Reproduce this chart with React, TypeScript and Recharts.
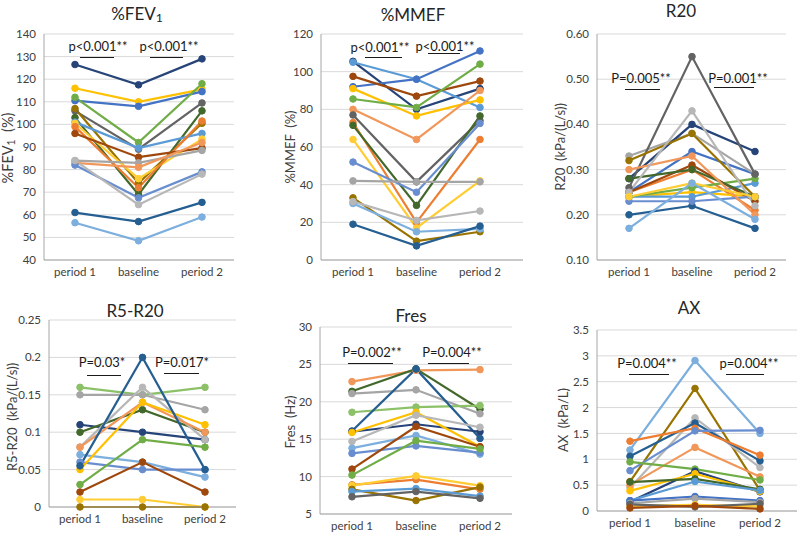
import React from "react";
import { CartesianGrid, Line, LineChart, XAxis, YAxis } from "recharts";

const CATEGORIES = ["period 1", "baseline", "period 2"];

// series colours (Excel office palette), keyed by patient colour name
const PALETTE: Record<string, string> = {
  blue: "#4472C4",
  orange: "#ED7D31",
  gray: "#A5A5A5",
  gold: "#FFC000",
  lightBlue: "#5B9BD5",
  green: "#70AD47",
  navy: "#264478",
  brown: "#9E480E",
  darkGray: "#636363",
  olive: "#997300",
  steel: "#255E91",
  darkGreen: "#43682B",
  periwinkle: "#698ED0",
  salmon: "#F1975A",
  silver: "#B7B7B7",
  lemon: "#FFCD33",
  sky: "#7CAFDD",
  lime: "#8CC168",
};

type Series = { key: string; values: number[] };

const FEV1: Series[] = [
  { key: "navy", values: [126.5, 117.5, 129] },
  { key: "gold", values: [116, 110, 115.5] },
  { key: "blue", values: [110.5, 108, 114.5] },
  { key: "green", values: [112, 92, 118] },
  { key: "darkGray", values: [106, 89, 109.5] },
  { key: "olive", values: [107, 74, 100.5] },
  { key: "darkGreen", values: [103, 69, 106] },
  { key: "lightBlue", values: [101, 89.5, 96] },
  { key: "lemon", values: [100.5, 76, 93.5] },
  { key: "orange", values: [99, 72, 101.5] },
  { key: "brown", values: [96, 85.5, 89.5] },
  { key: "gray", values: [84, 83, 88.5] },
  { key: "salmon", values: [83, 81, 92] },
  { key: "periwinkle", values: [82, 67.5, 79] },
  { key: "silver", values: [84, 64.5, 78] },
  { key: "steel", values: [61, 57, 65.5] },
  { key: "sky", values: [56.5, 48.5, 59] },
];

const MMEF: Series[] = [
  { key: "navy", values: [105.5, 80, 91] },
  { key: "lightBlue", values: [105, 96, 81] },
  { key: "blue", values: [92, 96, 111] },
  { key: "brown", values: [97.5, 87, 95] },
  { key: "gold", values: [91, 76.5, 85] },
  { key: "green", values: [85.5, 81, 104] },
  { key: "salmon", values: [80, 64, 90] },
  { key: "darkGray", values: [77, 41.5, 74] },
  { key: "orange", values: [73, 20, 64] },
  { key: "darkGreen", values: [71.5, 29, 76.5] },
  { key: "lemon", values: [64, 17, 42] },
  { key: "periwinkle", values: [52, 36, 72.5] },
  { key: "gray", values: [42, 41.5, 41.5] },
  { key: "olive", values: [33, 10, 15] },
  { key: "sky", values: [30, 15, 16.5] },
  { key: "silver", values: [31, 21, 26] },
  { key: "steel", values: [19, 7.5, 18] },
];

const R20: Series[] = [
  { key: "blue", values: [0.25, 0.34, 0.29] },
  { key: "orange", values: [0.25, 0.3, 0.21] },
  { key: "gray", values: [0.33, 0.38, 0.29] },
  { key: "gold", values: [0.24, 0.25, 0.24] },
  { key: "lightBlue", values: [0.24, 0.24, 0.27] },
  { key: "green", values: [0.24, 0.26, 0.28] },
  { key: "navy", values: [0.28, 0.4, 0.34] },
  { key: "brown", values: [0.25, 0.31, 0.23] },
  { key: "darkGray", values: [0.26, 0.55, 0.29] },
  { key: "olive", values: [0.32, 0.38, 0.24] },
  { key: "steel", values: [0.2, 0.22, 0.17] },
  { key: "darkGreen", values: [0.28, 0.3, 0.24] },
  { key: "periwinkle", values: [0.23, 0.23, 0.24] },
  { key: "salmon", values: [0.3, 0.33, 0.2] },
  { key: "silver", values: [0.25, 0.43, 0.22] },
  { key: "lemon", values: [0.24, 0.27, 0.24] },
  { key: "sky", values: [0.17, 0.27, 0.19] },
];

const R5R20: Series[] = [
  { key: "lime", values: [0.16, 0.15, 0.16] },
  { key: "gray", values: [0.15, 0.15, 0.13] },
  { key: "navy", values: [0.11, 0.1, 0.09] },
  { key: "darkGreen", values: [0.1, 0.13, 0.1] },
  { key: "silver", values: [0.08, 0.16, 0.09] },
  { key: "salmon", values: [0.08, 0.14, 0.1] },
  { key: "sky", values: [0.07, 0.06, 0.04] },
  { key: "periwinkle", values: [0.06, 0.05, 0.05] },
  { key: "gold", values: [0.05, 0.14, 0.11] },
  { key: "steel", values: [0.055, 0.2, 0.05] },
  { key: "green", values: [0.03, 0.09, 0.08] },
  { key: "brown", values: [0.02, 0.06, 0.02] },
  { key: "lemon", values: [0.01, 0.01, 0] },
  { key: "olive", values: [0, 0, 0] },
];

const FRES: Series[] = [
  { key: "salmon", values: [22.7, 24.2, 24.3] },
  { key: "darkGreen", values: [21.4, 24.4, 19] },
  { key: "gray", values: [21.1, 21.6, 18.4] },
  { key: "lime", values: [18.6, 19.3, 19.5] },
  { key: "steel", values: [16.1, 24.4, 15.1] },
  { key: "navy", values: [16, 17, 16] },
  { key: "gold", values: [15.9, 18.6, 14] },
  { key: "silver", values: [14.7, 18.2, 16.6] },
  { key: "sky", values: [13.8, 15.5, 13] },
  { key: "periwinkle", values: [13.1, 14.1, 13.2] },
  { key: "brown", values: [11, 16.7, 14] },
  { key: "green", values: [10.2, 14.8, 13.7] },
  { key: "orange", values: [8.9, 9.6, 8.3] },
  { key: "lemon", values: [8.8, 10.1, 8.8] },
  { key: "olive", values: [8.3, 6.8, 8.6] },
  { key: "lightBlue", values: [8, 8.4, 7.4] },
  { key: "darkGray", values: [7.3, 8, 7.1] },
];

const AX: Series[] = [
  { key: "sky", values: [1.18, 2.91, 1.5] },
  { key: "olive", values: [0.57, 2.37, 0.4] },
  { key: "silver", values: [0.45, 1.8, 0.84] },
  { key: "steel", values: [1.06, 1.7, 0.97] },
  { key: "orange", values: [1.35, 1.6, 1.08] },
  { key: "periwinkle", values: [0.78, 1.55, 1.56] },
  { key: "salmon", values: [0.5, 1.23, 0.66] },
  { key: "green", values: [0.95, 0.81, 0.6] },
  { key: "navy", values: [0.18, 0.77, 0.37] },
  { key: "gold", values: [0.39, 0.72, 0.38] },
  { key: "darkGreen", values: [0.56, 0.62, 0.42] },
  { key: "lightBlue", values: [0.2, 0.57, 0.4] },
  { key: "blue", values: [0.2, 0.28, 0.2] },
  { key: "gray", values: [0.15, 0.24, 0.17] },
  { key: "lemon", values: [0.1, 0.12, 0.09] },
  { key: "darkGray", values: [0.13, 0.08, 0.14] },
  { key: "brown", values: [0.06, 0.1, 0.04] },
];

const FEV1_TICKS = [40, 50, 60, 70, 80, 90, 100, 110, 120, 130, 140];
const MMEF_TICKS = [0, 20, 40, 60, 80, 100, 120];
const R20_TICKS = [0.1, 0.2, 0.3, 0.4, 0.5, 0.6];
const R5R20_TICKS = [0, 0.05, 0.1, 0.15, 0.2, 0.25];
const FRES_TICKS = [5, 10, 15, 20, 25, 30];
const AX_TICKS = [0, 0.5, 1, 1.5, 2, 2.5, 3, 3.5];

const P_LABELS = {
  fev1: ["p<0.001**", "p<0.001**"],
  mmef: ["p<0.001**", "p<0.001**"],
  r20: ["P=0.005**", "P=0.001**"],
  r5r20: ["P=0.03*", "P=0.017*"],
  fres: ["P=0.002**", "P=0.004**"],
  ax: ["P=0.004**", "p=0.004**"],
};

const TEXT = "#404040";
const sub1 = <span style={{ fontSize: "0.72em", verticalAlign: "-0.15em" }}>1</span>;

const toRows = (series: Series[]) =>
  CATEGORIES.map((c, i) => {
    const row: Record<string, any> = { period: c };
    series.forEach((s) => (row[s.key] = s.values[i]));
    return row;
  });

type PanelProps = {
  series: Series[];
  ticks: number[];
  fmt?: (v: number) => string;
  left: number; // plot left edge
  right: number; // plot right edge (grid end)
  top: number;
  bottom: number;
  pad: [number, number]; // x-axis padding to first / last category
  title: React.ReactNode;
  titleX: number;
  titleY: number;
  yTitle: React.ReactNode;
  yTitleX: number;
  yTitleY: number;
  yTitleSize?: number;
  pLabels: string[];
  pText: { x: number; y: number }[];
  pBars: { x1: number; x2: number; y: number }[];
};

const Y_W = 44;
const X_H = 26;
const M_TOP = 10;

const Panel = (p: PanelProps) => {
  const w = Y_W + (p.right - p.left);
  const h = M_TOP + p.bottom - p.top + X_H;
  return (
    <>
      <div style={{ position: "absolute", left: p.left - Y_W, top: p.top - M_TOP }}>
        <LineChart width={w} height={h} data={toRows(p.series)} margin={{ top: M_TOP, right: 0, bottom: 0, left: 0 }}>
          <CartesianGrid vertical={false} stroke="#D9D9D9" />
          <XAxis
            dataKey="period"
            height={X_H}
            tickSize={0}
            tickMargin={8}
            interval={0}
            padding={{ left: p.pad[0], right: p.pad[1] }}
            axisLine={{ stroke: "#A6A6A6" }}
            tick={{ fill: TEXT, fontSize: 11.5 }}
          />
          <YAxis
            type="number"
            width={Y_W}
            domain={[p.ticks[0], p.ticks[p.ticks.length - 1]]}
            ticks={p.ticks}
            interval={0}
            tickSize={0}
            tickMargin={8}
            tickFormatter={p.fmt}
            axisLine={{ stroke: "#A6A6A6" }}
            tick={{ fill: TEXT, fontSize: 11.5 }}
          />
          {p.series.map((s) => (
            <Line
              key={s.key}
              dataKey={s.key}
              stroke={PALETTE[s.key]}
              strokeWidth={2.2}
              dot={{ r: 3.3, fill: PALETTE[s.key], stroke: PALETTE[s.key], strokeWidth: 1 }}
              isAnimationActive={false}
            />
          ))}
        </LineChart>
      </div>
      <div
        style={{
          position: "absolute",
          left: p.titleX,
          top: p.titleY,
          transform: "translate(-50%, -50%)",
          fontSize: 17,
          color: "#262626",
          whiteSpace: "nowrap",
        }}
      >
        {p.title}
      </div>
      <div
        style={{
          position: "absolute",
          left: p.yTitleX,
          top: p.yTitleY,
          transform: "translate(-50%, -50%) rotate(-90deg)",
          fontSize: p.yTitleSize ?? 13,
          color: TEXT,
          whiteSpace: "pre",
        }}
      >
        {p.yTitle}
      </div>
      {p.pLabels.map((t, i) => (
        <div
          key={"pt" + i}
          style={{
            position: "absolute",
            left: p.pText[i].x,
            top: p.pText[i].y,
            transform: "translate(-50%, -50%)",
            fontSize: 13,
            color: "#1a1a1a",
            whiteSpace: "nowrap",
          }}
        >
          {t}
        </div>
      ))}
      {p.pBars.map((b, i) => (
        <div
          key={"pb" + i}
          style={{
            position: "absolute",
            left: b.x1,
            top: b.y,
            width: b.x2 - b.x1,
            height: 0,
            borderTop: "1.5px solid #1a1a1a",
          }}
        />
      ))}
    </>
  );
};

const plain = (v: number) => String(v);

export default function App() {
  return (
    <div
      style={{
        position: "absolute",
        left: 0,
        top: 0,
        width: 797,
        height: 533,
        background: "#fff",
        overflow: "hidden",
        fontFamily: "Lato, 'Liberation Sans', sans-serif",
      }}
    >
      <Panel
        series={FEV1}
        ticks={FEV1_TICKS}
        fmt={plain}
        left={44}
        right={234}
        top={34}
        bottom={260}
        pad={[31, 32]}
        title={<>%FEV{sub1}</>}
        titleX={137}
        titleY={14}
        yTitle={<>%FEV{sub1}  (%)</>}
        yTitleX={8}
        yTitleY={148}
        yTitleSize={14.5}
        pLabels={P_LABELS.fev1}
        pText={[{ x: 98, y: 46 }, { x: 169, y: 46 }]}
        pBars={[{ x1: 80, x2: 114, y: 57 }, { x1: 150, x2: 183, y: 57 }]}
      />
      <Panel
        series={MMEF}
        ticks={MMEF_TICKS}
        fmt={plain}
        left={321}
        right={523}
        top={34}
        bottom={260}
        pad={[32, 43]}
        title="%MMEF"
        titleX={413}
        titleY={14}
        yTitle="%MMEF  (%)"
        yTitleX={290}
        yTitleY={147}
        pLabels={P_LABELS.mmef}
        pText={[{ x: 380, y: 47 }, { x: 445, y: 46 }]}
        pBars={[{ x1: 365, x2: 402, y: 57 }, { x1: 428, x2: 460, y: 53 }]}
      />
      <Panel
        series={R20}
        ticks={R20_TICKS}
        fmt={(v) => v.toFixed(2)}
        left={597}
        right={786}
        top={34}
        bottom={260}
        pad={[32, 31]}
        title="R20"
        titleX={681}
        titleY={10}
        yTitle="R20  (kPa/(L/s))"
        yTitleX={560}
        yTitleY={147}
        pLabels={P_LABELS.r20}
        pText={[{ x: 641, y: 78 }, { x: 738, y: 78 }]}
        pBars={[{ x1: 625, x2: 660, y: 89 }, { x1: 714, x2: 754, y: 87 }]}
      />
      <Panel
        series={R5R20}
        ticks={R5R20_TICKS}
        fmt={plain}
        left={49}
        right={236}
        top={320}
        bottom={507}
        pad={[31, 31]}
        title="R5-R20"
        titleX={135}
        titleY={310}
        yTitle="R5-R20  (kPa/(L/s))"
        yTitleX={12}
        yTitleY={417}
        pLabels={P_LABELS.r5r20}
        pText={[{ x: 102, y: 362 }, { x: 182, y: 362 }]}
        pBars={[{ x1: 87, x2: 121, y: 375 }, { x1: 164, x2: 199, y: 373 }]}
      />
      <Panel
        series={FRES}
        ticks={FRES_TICKS}
        fmt={plain}
        left={320}
        right={512}
        top={327}
        bottom={514}
        pad={[32, 32]}
        title="Fres"
        titleX={411}
        titleY={315}
        yTitle="Fres  (Hz)"
        yTitleX={290}
        yTitleY={422}
        pLabels={P_LABELS.fres}
        pText={[{ x: 372, y: 352 }, { x: 452, y: 352 }]}
        pBars={[{ x1: 348, x2: 393, y: 363 }, { x1: 428, x2: 469, y: 363 }]}
      />
      <Panel
        series={AX}
        ticks={AX_TICKS}
        fmt={plain}
        left={597}
        right={797}
        top={330}
        bottom={511}
        pad={[33, 37]}
        title="AX"
        titleX={689}
        titleY={307}
        yTitle="AX  (kPa/L)"
        yTitleX={563}
        yTitleY={420}
        pLabels={P_LABELS.ax}
        pText={[{ x: 647, y: 363 }, { x: 749, y: 363 }]}
        pBars={[{ x1: 629, x2: 669, y: 374 }, { x1: 726, x2: 764, y: 374 }]}
      />
    </div>
  );
}
